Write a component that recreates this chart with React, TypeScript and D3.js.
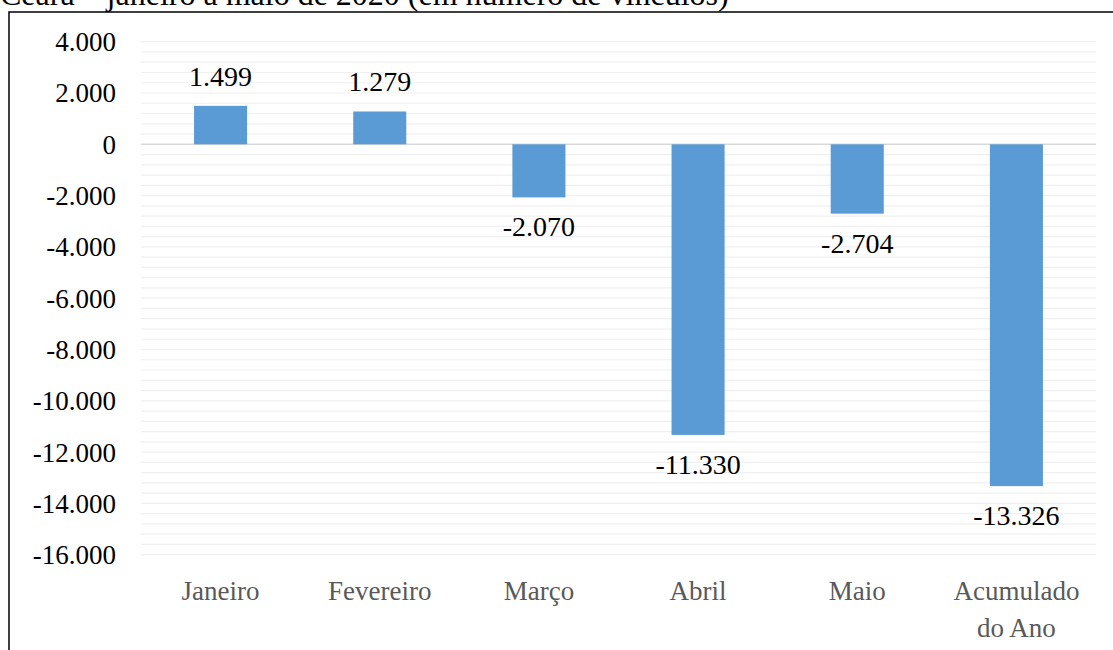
import React from "react";
import * as d3 from "d3";

const categories: string[][] = [["Janeiro"], ["Fevereiro"], ["Março"], ["Abril"], ["Maio"], ["Acumulado", "do Ano"]];
const values: number[] = [1499, 1279, -2070, -11330, -2704, -13326];
const yTicks: number[] = [4000, 2000, 0, -2000, -4000, -6000, -8000, -10000, -12000, -14000, -16000];
const title = "Ceará – janeiro a maio de 2020 (em número de vínculos)";

const W = 1113;
const H = 650;
const FONT = "'Liberation Serif', 'Times New Roman', serif";

const fmt = (v: number) => {
  const s = Math.abs(v).toString().replace(/\B(?=(\d{3})+(?!\d))/g, ".");
  return (v < 0 ? "-" : "") + s;
};

export default function App() {
  const left = 141;
  const right = 1096;
  const y = d3.scaleLinear().domain([-16000, 4000]).range([554.7, 41.7]);
  const x = d3.scaleBand<number>().domain(d3.range(categories.length)).range([left, right]).paddingInner(2 / 3).paddingOuter(1 / 3);
  const bw = x.bandwidth();
  const minor = d3.range(-16000, 4001, 400);

  return (
    <svg width={W} height={H} style={{ position: "absolute", left: 0, top: 0, background: "#fff", fontFamily: FONT }}>
      <rect x={0} y={0} width={W} height={H} fill="#fff" />
      <text x={0} y={5} fontSize={32} fill="#000">{title}</text>
      <rect x={9} y={12} width={W + 20} height={H + 20} fill="none" stroke="#000" strokeWidth={1.5} />
      {minor.map((v) => (
        <line key={v} x1={left} x2={right} y1={y(v)} y2={y(v)} stroke={v === 0 ? "#d9d9d9" : "#f0f0f0"} strokeWidth={v === 0 ? 1.5 : 1.2} />
      ))}
      {yTicks.map((t) => (
        <text key={t} x={116} y={y(t)} dy="0.35em" textAnchor="end" fontSize={27} fill="#000">{fmt(t)}</text>
      ))}
      {values.map((v, i) => {
        const x0 = x(i)!;
        const top = Math.min(y(v), y(0));
        const h = Math.abs(y(v) - y(0));
        return (
          <g key={i}>
            <rect x={x0} y={top} width={bw} height={h} fill="#5b9bd5" />
            <text x={x0 + bw / 2} y={v >= 0 ? y(v) - 20 : y(v) + 39} textAnchor="middle" fontSize={28} fill="#000">{fmt(v)}</text>
          </g>
        );
      })}
      {categories.map((lines, i) => (
        <text key={i} x={x(i)! + bw / 2} y={600} textAnchor="middle" fontSize={27} fill="#595959">
          {lines.map((l, j) => (
            <tspan key={j} x={x(i)! + bw / 2} dy={j === 0 ? 0 : 37}>{l}</tspan>
          ))}
        </text>
      ))}
    </svg>
  );
}
